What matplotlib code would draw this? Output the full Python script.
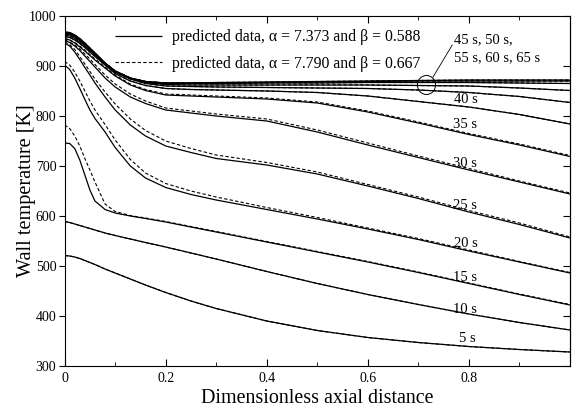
import matplotlib
matplotlib.use("Agg")
import matplotlib.pyplot as plt
from matplotlib.patches import Ellipse

plt.rcParams['font.family'] = ['Liberation Serif', 'DejaVu Serif']

# axial positions (dimensionless)
x = [0, 0.01, 0.02, 0.03, 0.04, 0.05, 0.06, 0.08, 0.10, 0.13, 0.16, 0.20,
     0.25, 0.30, 0.40, 0.50, 0.60, 0.70, 0.80, 0.90, 1.00]

# solid: alpha = 7.373, beta = 0.588
s05 = [521, 520, 518, 515, 511, 507, 503, 494, 486, 474, 462, 447, 430, 415, 390, 371, 357, 347, 339, 333, 328]
s10 = [589, 587, 584, 581, 578, 575, 572, 566, 561, 554, 547, 538, 526, 514, 489, 465, 443, 423, 404, 387, 372]
s15 = [746, 745, 735, 712, 682, 652, 630, 613, 606, 600, 595, 588, 578, 568, 548, 528, 508, 487, 465, 443, 422]
s20 = [902, 893, 876, 855, 833, 812, 795, 768, 737, 700, 676, 657, 643, 632, 613, 594, 574, 553, 530, 508, 486]
s25 = [946, 940, 928, 913, 897, 882, 866, 838, 812, 782, 760, 740, 727, 715, 702, 684, 660, 635, 608, 583, 556]
s30 = [951, 947, 940, 931, 920, 909, 898, 876, 858, 838, 825, 812, 806, 800, 790, 768, 742, 717, 692, 668, 644]
s35 = [955, 952, 946, 938, 930, 921, 912, 896, 880, 862, 851, 842, 840, 838, 834, 826, 808, 786, 763, 742, 719]
s40 = [959, 957, 952, 945, 937, 928, 919, 902, 885, 870, 861, 855, 853, 852, 850, 847, 840, 829, 818, 803, 784]
s45 = [962, 960, 955, 948, 940, 931, 922, 904, 888, 874, 865, 860, 859, 858, 857, 856, 855, 852, 847, 839, 827]
s50 = [964, 963, 958, 951, 943, 933, 924, 905, 889, 875, 867, 863, 862, 862, 862, 862, 862, 861, 860, 856, 851]
s55 = [966, 965, 960, 953, 944, 934, 925, 905, 889, 875, 868, 865, 865, 865, 866, 866, 867, 867, 867, 866, 865]
s60 = [967, 966, 961, 954, 945, 935, 926, 906, 890, 876, 869, 866, 866, 866, 867, 868, 869, 870, 870, 870, 870]
s65 = [968, 967, 962, 955, 946, 936, 926, 906, 890, 876, 869, 866, 866, 867, 868, 869, 870, 871, 872, 872, 872]

# dashed: alpha = 7.790, beta = 0.667 (where distinguishable)
d15 = [782, 775, 760, 740, 715, 692, 668, 624, 609, 601, 596, 589, 579, 569, 549, 529, 509, 488, 466, 444, 423]
d20 = [909, 902, 888, 870, 850, 830, 812, 783, 752, 713, 686, 665, 650, 638, 617, 597, 576, 555, 532, 509, 487]
d25 = [948, 943, 933, 919, 904, 889, 874, 848, 824, 794, 771, 750, 735, 722, 707, 688, 663, 638, 611, 586, 558]
d30 = [952, 948, 942, 934, 924, 914, 903, 882, 864, 844, 830, 816, 810, 804, 794, 772, 746, 720, 695, 670, 646]
d35 = [955, 952, 947, 940, 932, 923, 914, 898, 882, 864, 853, 844, 842, 840, 836, 828, 810, 788, 765, 744, 721]

solid_series = [s05, s10, s15, s20, s25, s30, s35, s40, s45, s50, s55, s60, s65]
dashed_series = [s05, s10, d15, d20, d25, d30, d35, s40, s45, s50, s55, s60, s65]

time_labels = ['5 s', '10 s', '15 s', '20 s', '25 s', '30 s', '35 s', '40 s']
label_x = [0.797, 0.793, 0.793, 0.793, 0.793, 0.793, 0.793, 0.793]
label_T = [356, 414, 478, 546, 622, 706, 784, 832]

legend_solid = 'predicted data, α = 7.373 and β = 0.588'
legend_dashed = 'predicted data, α = 7.790 and β = 0.667'

fig = plt.figure(figsize=(5.72, 4.07), dpi=100)
ax = fig.add_axes([0.113, 0.1007, 0.8835, 0.86])

for i, ys in enumerate(solid_series):
    ax.plot(x, ys, color='black', lw=0.9, solid_capstyle='butt',
            label=legend_solid if i == 0 else None)
for i, ys in enumerate(dashed_series):
    ax.plot(x, ys, color='black', lw=0.8, dashes=(3, 2),
            label=legend_dashed if i == 0 else None)

ax.set_xlim(0, 1.0)
ax.set_ylim(300, 1000)
ax.set_xticks([0, 0.2, 0.4, 0.6, 0.8])
ax.set_xticklabels(['0', '0.2', '0.4', '0.6', '0.8'])
ax.set_xticks([0.1, 0.3, 0.5, 0.7, 0.9], minor=True)
ax.set_yticks(range(300, 1001, 100))
ax.tick_params(axis='x', which='both', direction='in', top=True, labelsize=10, pad=4)
ax.tick_params(axis='x', which='major', length=5)
ax.tick_params(axis='x', which='minor', length=3)
ax.tick_params(axis='y', which='major', direction='out', length=4, labelsize=10, pad=2)
sec = ax.secondary_yaxis('right')
sec.set_yticks(range(300, 1001, 100))
sec.tick_params(direction='in', length=5, labelright=False)

ax.set_xlabel('Dimensionless axial distance', fontsize=14.4, labelpad=3)
ax.set_ylabel('Wall temperature [K]', fontsize=14.6)
ax.yaxis.set_label_coords(-0.057, 0.5)

for lab, lx, lt in zip(time_labels, label_x, label_T):
    ax.text(lx, lt, lab, fontsize=10.5, ha='center', va='center')

# grouped annotation
ax.add_patch(Ellipse((0.716, 862), 0.036, 38, fill=False, lw=0.7, color='black'))
ax.plot([0.729, 0.767], [878, 942], color='black', lw=0.6)
ax.text(0.770, 935, '45 s, 50 s,\n55 s, 60 s, 65 s', fontsize=10.5,
        ha='left', va='center', linespacing=1.5)

ax.legend(loc='upper left', bbox_to_anchor=(0.0996, 0.962), frameon=False,
          fontsize=11.3, handlelength=3.0, handletextpad=0.62, labelspacing=0.68,
          borderpad=0, borderaxespad=0)

fig.savefig('out.png', dpi=100)
